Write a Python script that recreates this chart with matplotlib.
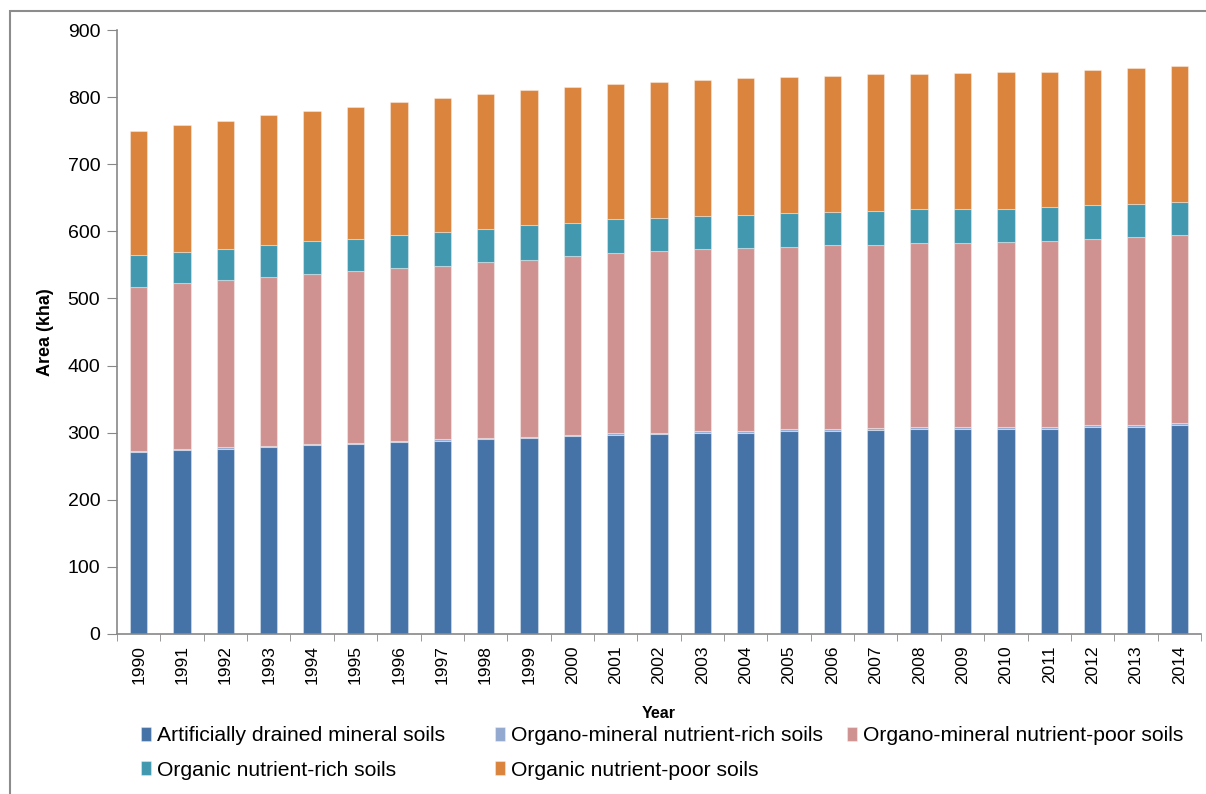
import numpy as np
import matplotlib.pyplot as plt
from matplotlib.patches import Rectangle

plt.rcParams['font.family'] = ['Liberation Sans', 'DejaVu Sans']

years = [str(y) for y in range(1990, 2015)]

mineral = [271, 274, 276, 278, 281, 283, 286, 288, 290, 292, 295, 297, 298,
           299, 300, 302, 303, 304, 305, 305, 306, 306, 308, 309, 311]
om_rich = [2, 2, 2, 2, 2, 2, 2, 2, 2, 2, 2, 2, 2,
           3, 3, 3, 3, 3, 3, 3, 3, 3, 3, 3, 3]
om_poor = [244, 247, 249, 252, 253, 256, 257, 259, 262, 264, 266, 268, 270,
           271, 272, 272, 273, 273, 274, 275, 275, 276, 278, 279, 280]
org_rich = [47, 46, 47, 47, 49, 48, 49, 50, 49, 51, 49, 51, 50,
            50, 50, 50, 50, 51, 51, 50, 50, 51, 50, 50, 50]
org_poor = [186, 189, 191, 194, 194, 197, 198, 199, 201, 201, 203, 202, 203,
            203, 203, 203, 203, 203, 202, 203, 203, 202, 202, 203, 203]

series = [
    ("Artificially drained mineral soils", mineral, "#4572A7"),
    ("Organo-mineral nutrient-rich soils", om_rich, "#93A9CF"),
    ("Organo-mineral nutrient-poor soils", om_poor, "#D09290"),
    ("Organic nutrient-rich soils", org_rich, "#4198AF"),
    ("Organic nutrient-poor soils", org_poor, "#DB843D"),
]

fig = plt.figure(figsize=(12.06, 7.94), dpi=100)
ax = fig.add_axes([117 / 1206, 1 - 634 / 794, 1084 / 1206, 604 / 794])

x = np.arange(len(years))
bottom = np.zeros(len(years))
bars = []
for name, vals, col in series:
    b = ax.bar(x, vals, width=0.4, bottom=bottom, color=col, label=name,
               edgecolor=(1, 1, 1, 0.35), linewidth=0.8)
    bars.append(b)
    bottom += np.array(vals)

ax.set_xlim(-0.5, len(years) - 0.5)
ax.set_ylim(0, 900)
ax.set_yticks(range(0, 901, 100))
ax.tick_params(axis='y', labelsize=14, length=7, color='#888888',
               direction='out', pad=5)
ax.set_xticks(x)
ax.set_xticklabels(years, rotation=90, fontsize=12.5)
ax.tick_params(axis='x', which='major', length=0, pad=8)
ax.set_xticks(np.arange(-0.5, len(years), 1), minor=True)
ax.tick_params(axis='x', which='minor', length=5, color='#888888')

for s in ['top', 'right']:
    ax.spines[s].set_visible(False)
for s in ['left', 'bottom']:
    ax.spines[s].set_color('#888888')
    ax.spines[s].set_linewidth(1.2)

ax.set_ylabel("Area (kha)", fontsize=13, fontweight='bold', labelpad=10)
ax.set_xlabel("Year", fontsize=11.5, fontweight='bold', labelpad=16)

# equal-width legend columns, filled row by row (Excel style)
columns = [[0, 3], [1, 4], [2]]
col_left = [141, 495, 847]
for idx, left in zip(columns, col_left):
    leg = fig.legend([bars[i] for i in idx], [series[i][0] for i in idx],
                     loc='upper left', bbox_to_anchor=(left / 1206, 1 - 726 / 794),
                     frameon=False, fontsize=15.2, handlelength=0.45,
                     handleheight=0.65, handletextpad=0.3, labelspacing=0.75,
                     borderpad=0, borderaxespad=0)

fig.patches.append(Rectangle((10 / 1206, -0.02), 1.1, 1 - 11 / 794 + 0.02,
                             transform=fig.transFigure, fill=False,
                             edgecolor='#8c8c8c', linewidth=1.5))

fig.savefig("out.png", dpi=100)
